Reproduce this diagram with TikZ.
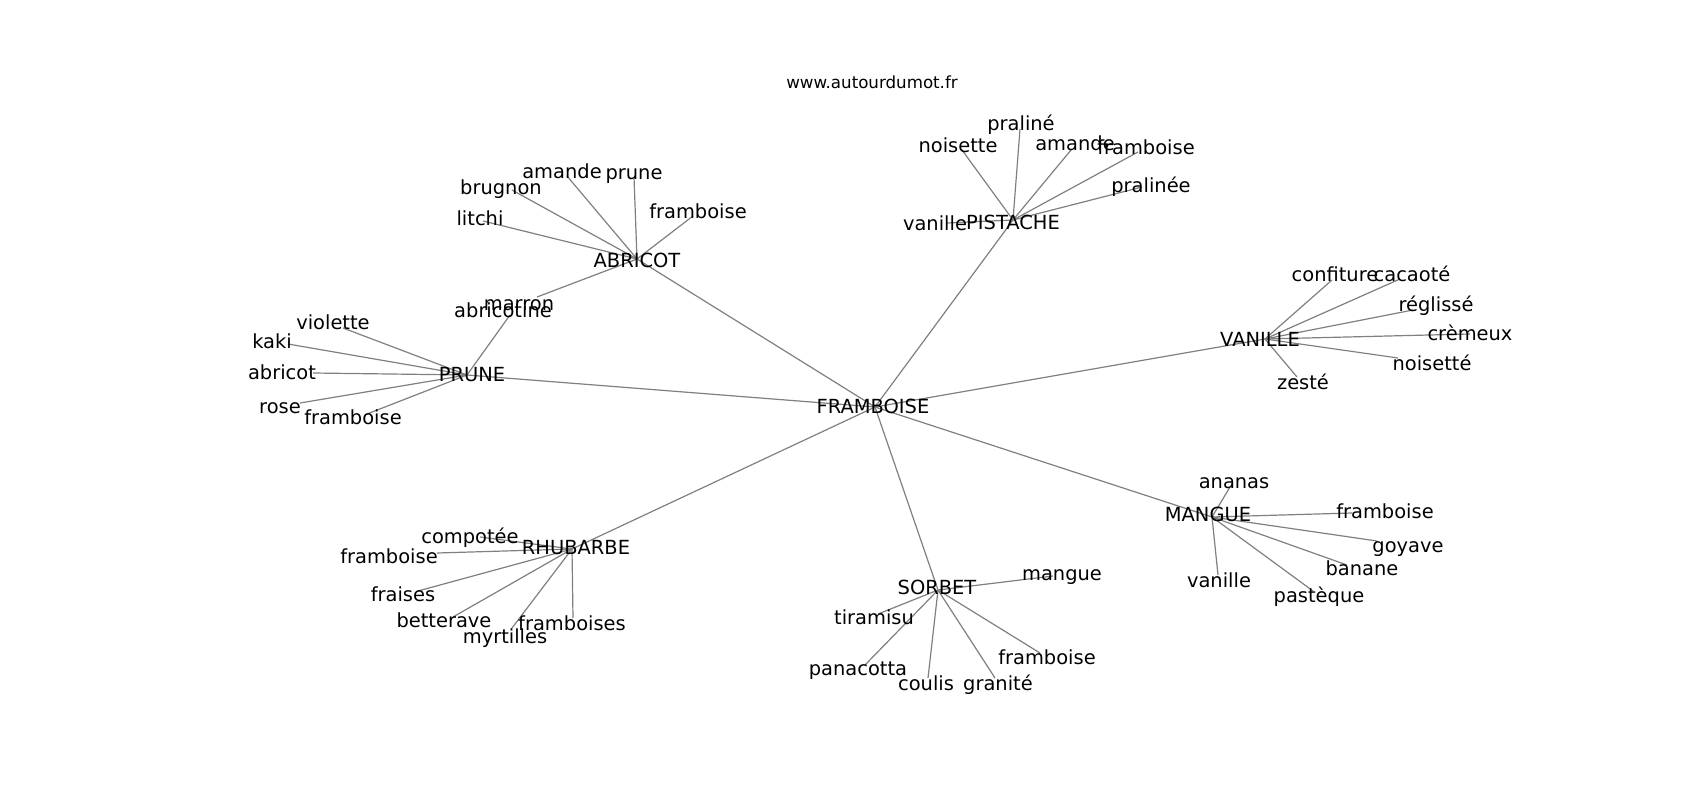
\documentclass[tikz,border=0pt]{standalone}
\usepackage{fontspec}
\setmainfont{DejaVu Sans}
\begin{document}
\begin{tikzpicture}[x=1pt,y=-1pt,
  lbl/.style={inner sep=0pt,anchor=center,text height=0.72em,text depth=0pt,yshift=-4pt,font=\fontsize{19.44}{23}\selectfont},
  ttl/.style={inner sep=0pt,anchor=center,text height=0.72em,text depth=0pt,yshift=-2pt,font=\fontsize{16.67}{20}\selectfont},
  edge/.style={draw=black!50,line width=1.2pt}]
\fill[white] (0,0) rectangle (1700,800);
\useasboundingbox (0,0) rectangle (1700,800);
% coordinates (graph nodes)
\coordinate (fram) at (875,407);
\coordinate (abr) at (637,259);
\coordinate (pru) at (467,375);
\coordinate (pis) at (1013,220);
\coordinate (van) at (1265,339);
\coordinate (man) at (1212,517);
\coordinate (sor) at (938,590);
\coordinate (rhu) at (572,549);
% abricot leaves
\coordinate (a1) at (567,176);
\coordinate (a2) at (634,177);
\coordinate (a3) at (512,190);
\coordinate (a4) at (483,221);
\coordinate (a5) at (693,216);
\coordinate (a6) at (537,297);
% prune leaves
\coordinate (p1) at (343,328);
\coordinate (p2) at (288,344);
\coordinate (p3) at (313,373);
\coordinate (p4) at (300,403);
\coordinate (p5) at (367,414);
\coordinate (p6) at (510,315);
% pistache leaves
\coordinate (s1) at (962,150);
\coordinate (s2) at (1020,129);
\coordinate (s3) at (1071,150);
\coordinate (s4) at (1138,152);
\coordinate (s5) at (1142,187);
\coordinate (s6) at (947,223);
% vanille leaves
\coordinate (v1) at (1332,280);
\coordinate (v2) at (1400,279);
\coordinate (v3) at (1413,310);
\coordinate (v4) at (1470,334);
\coordinate (v5) at (1398,358);
\coordinate (v6) at (1297,377);
% mangue leaves
\coordinate (m1) at (1230,487);
\coordinate (m2) at (1352,513);
\coordinate (m3) at (1377,541);
\coordinate (m4) at (1347,565);
\coordinate (m5) at (1313,591);
\coordinate (m6) at (1218,575);
% sorbet leaves
\coordinate (o1) at (1053,576);
\coordinate (o2) at (878,614);
\coordinate (o3) at (865,665);
\coordinate (o4) at (928,678);
\coordinate (o5) at (995,678);
\coordinate (o6) at (1040,653);
% rhubarbe leaves
\coordinate (r1) at (480,537);
\coordinate (r2) at (437,553);
\coordinate (r3) at (418,591);
\coordinate (r4) at (453,617);
\coordinate (r5) at (512,628);
\coordinate (r6) at (573,618);
% edges
\foreach \h in {abr,pru,pis,van,man,sor,rhu} {\draw[edge] (fram) -- (\h);}
\foreach \l in {a1,a2,a3,a4,a5,a6} {\draw[edge] (abr) -- (\l);}
\foreach \l in {p1,p2,p3,p4,p5,p6} {\draw[edge] (pru) -- (\l);}
\foreach \l in {s1,s2,s3,s4,s5,s6} {\draw[edge] (pis) -- (\l);}
\foreach \l in {v1,v2,v3,v4,v5,v6} {\draw[edge] (van) -- (\l);}
\foreach \l in {m1,m2,m3,m4,m5,m6} {\draw[edge] (man) -- (\l);}
\foreach \l in {o1,o2,o3,o4,o5,o6} {\draw[edge] (sor) -- (\l);}
\foreach \l in {r1,r2,r3,r4,r5,r6} {\draw[edge] (rhu) -- (\l);}
% labels
\node[ttl] (title) at (872,83) {www.autourdumot.fr};
\node[lbl] (Lfram) at (873,406) {FRAMBOISE};
\node[lbl] (Labr) at (637,260) {ABRICOT};
\node[lbl] (Lpru) at (472,374) {PRUNE};
\node[lbl] (Lpis) at (1013,222) {PISTACHE};
\node[lbl] (Lvan) at (1260,339) {VANILLE};
\node[lbl] (Lman) at (1208,514) {MANGUE};
\node[lbl] (Lsor) at (937,587) {SORBET};
\node[lbl] (Lrhu) at (576,547) {RHUBARBE};
\node[lbl] (La1) at (562,171) {amande};
\node[lbl] (La2) at (634,172) {prune};
\node[lbl] (La3) at (501,187) {brugnon};
\node[lbl] (La4) at (480,218) {litchi};
\node[lbl] (La5) at (698,211) {framboise};
\node[lbl] (La6) at (519,303) {marron};
\node[lbl] (Lp1) at (333,322) {violette};
\node[lbl] (Lp2) at (272,341) {kaki};
\node[lbl] (Lp3) at (282,372) {abricot};
\node[lbl] (Lp4) at (280,406) {rose};
\node[lbl] (Lp5) at (353,417) {framboise};
\node[lbl] (Lp6) at (503,310) {abricotine};
\node[lbl] (Ls1) at (958,145) {noisette};
\node[lbl] (Ls2) at (1021,123) {praliné};
\node[lbl] (Ls3) at (1075,143) {amande};
\node[lbl] (Ls4) at (1146,147) {framboise};
\node[lbl] (Ls5) at (1151,185) {pralinée};
\node[lbl] (Ls6) at (935,223) {vanille};
\node[lbl] (Lv1) at (1335,274) {confiture};
\node[lbl] (Lv2) at (1412,274) {cacaoté};
\node[lbl] (Lv3) at (1436,304) {réglissé};
\node[lbl] (Lv4) at (1470,333) {crèmeux};
\node[lbl] (Lv5) at (1432,363) {noisetté};
\node[lbl] (Lv6) at (1303,382) {zesté};
\node[lbl] (Lm1) at (1234,481) {ananas};
\node[lbl] (Lm2) at (1385,511) {framboise};
\node[lbl] (Lm3) at (1408,545) {goyave};
\node[lbl] (Lm4) at (1362,568) {banane};
\node[lbl] (Lm5) at (1319,595) {pastèque};
\node[lbl] (Lm6) at (1219,580) {vanille};
\node[lbl] (Lo1) at (1062,573) {mangue};
\node[lbl] (Lo2) at (874,617) {tiramisu};
\node[lbl] (Lo3) at (858,668) {panacotta};
\node[lbl] (Lo4) at (926,683) {coulis};
\node[lbl] (Lo5) at (998,683) {granité};
\node[lbl] (Lo6) at (1047,657) {framboise};
\node[lbl] (Lr1) at (470,536) {compotée};
\node[lbl] (Lr2) at (389,556) {framboise};
\node[lbl] (Lr3) at (403,594) {fraises};
\node[lbl] (Lr4) at (444,620) {betterave};
\node[lbl] (Lr5) at (505,636) {myrtilles};
\node[lbl] (Lr6) at (572,623) {framboises};
\end{tikzpicture}
\end{document}
